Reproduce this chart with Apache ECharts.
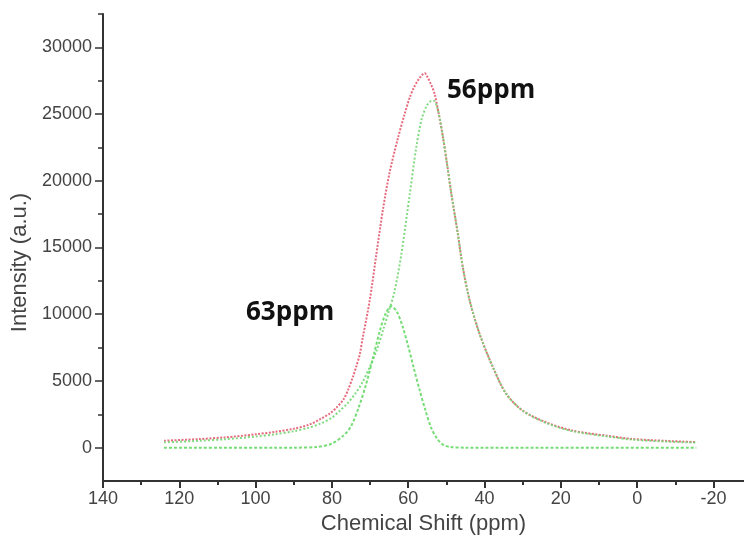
<!DOCTYPE html>
<html>
<head>
<meta charset="utf-8">
<script src="https://cdn.jsdelivr.net/npm/echarts@6/dist/echarts.min.js"></script>
<style>html,body{margin:0;padding:0;background:#fff;}#c{width:744px;height:544px;}</style>
</head>
<body>
<div id="c"></div>
<script>
// ---- data ----
const xTickLabels = [140, 120, 100, 80, 60, 40, 20, 0, -20];
const xMinorTicks = [130, 110, 90, 70, 50, 30, 10, -10];
const yTickLabels = [0, 5000, 10000, 15000, 20000, 25000, 30000];
const yMinorTicks = [2500, 7500, 12500, 17500, 22500, 27500, 32500];

// total (red) envelope
const totalPpm = [124,115,108,100,95,90,86,83,80.6,78.8,77,75.8,74.5,73.6,72.7,71.9,70.1,68.4,66.6,64.9,62.7,61,59.6,58.5,57.3,56.3,55.7,55,54,53.1,52,50.9,49.8,48.7,47,45.7,43.9,41.3,37.8,34.3,30,23.9,16.9,8.1,1.2,-8,-15.5];
const totalInt = [520,640,770,1000,1180,1420,1720,2150,2550,3000,3600,4300,5300,6100,7000,8275,11025,14400,17900,20600,23200,24950,26250,27000,27600,27950,28070,27800,27200,26530,25000,23270,21200,19025,16025,13525,11025,8525,6025,4025,2775,1900,1275,900,650,500,420];

// 56 ppm component (green)
const comp56Ppm = [124,115,108,100,95,90,86,83,80,78,76,74,72,70,68.4,66.5,65,63.6,61.8,59.6,57.9,56.5,55.2,54.2,53.3,52.4,51.5,50.9,49.8,48.7,47,45.7,43.9,41.3,37.8,34.3,30,23.9,16.9,8.1,1.2,-8,-15.5];
const comp56Int = [400,510,630,830,1000,1230,1500,1800,2250,2750,3300,4000,4900,6100,7200,8900,10300,11700,14500,19000,22500,24600,25600,25950,26000,25500,24300,23270,21200,19025,16025,13525,11025,8525,6025,4025,2775,1850,1230,850,600,450,380];

// 63 ppm component (green)
const comp63Ppm = [124,90,84,80,77,75,73,71,69,67.5,66,64.5,63,61.5,60,58.5,57,55.5,54,52.5,51,49,45,-15.5];
const comp63Int = [0,0,50,300,900,1600,3000,4800,7000,8700,10000,10600,10200,9100,7600,5900,4300,2800,1500,700,250,50,0,0];

const peakLabels = ['56ppm', '63ppm'];
const xTitle = 'Chemical Shift (ppm)';
const yTitle = 'Intensity (a.u.)';

const pairs = (xs, ys) => xs.map((x, i) => [x, ys[i]]);

const chart = echarts.init(document.getElementById('c'), null, {renderer: 'canvas'});
const axisColor = '#333';
const labelColor = '#444';
const font = '"Liberation Sans", Arial, sans-serif';

chart.setOption({
  animation: false,
  backgroundColor: '#fff',
  grid: {left: 103, right: 0, top: 14, bottom: 63, containLabel: false},
  xAxis: [{
    type: 'value', min: -28, max: 140, inverse: true,
    position: 'bottom',
    name: xTitle, nameLocation: 'middle', nameGap: 32,
    nameTextStyle: {fontFamily: font, fontSize: 22, color: labelColor},
    axisLine: {show: true, onZero: false, lineStyle: {color: axisColor, width: 2}},
    axisTick: {show: true, inside: false, length: 7, customValues: xTickLabels, lineStyle: {color: axisColor, width: 2}},
    axisLabel: {show: true, customValues: xTickLabels, margin: 9, fontFamily: font, fontSize: 18, color: labelColor},
    splitLine: {show: false}
  }, {
    type: 'value', min: -28, max: 140, inverse: true,
    position: 'bottom', offset: 0,
    axisLine: {show: false, onZero: false},
    axisTick: {show: true, inside: false, length: 4, customValues: xMinorTicks, lineStyle: {color: axisColor, width: 2}},
    axisLabel: {show: false},
    splitLine: {show: false}
  }],
  yAxis: [{
    type: 'value', min: -2500, max: 32500,
    position: 'left',
    name: yTitle, nameLocation: 'middle', nameGap: 61, nameRotate: 90,
    nameTextStyle: {fontFamily: font, fontSize: 22, color: labelColor, padding: [0, 30, 0, 0]},
    axisLine: {show: true, onZero: false, lineStyle: {color: axisColor, width: 2}},
    axisTick: {show: true, inside: false, length: 8, customValues: yTickLabels, lineStyle: {color: axisColor, width: 1.5}},
    axisLabel: {show: true, customValues: yTickLabels, margin: 11, fontFamily: font, fontSize: 18, color: labelColor,
      formatter: v => String(v)},
    splitLine: {show: false}
  }, {
    type: 'value', min: -2500, max: 32500,
    position: 'left', offset: 0,
    axisLine: {show: false, onZero: false},
    axisTick: {show: true, inside: false, length: 5, customValues: yMinorTicks, lineStyle: {color: axisColor, width: 1.5}},
    axisLabel: {show: false},
    splitLine: {show: false}
  }],
  graphic: [
    {type: 'text', x: 447, y: 91, style: {text: peakLabels[0], font: 'bold 26px "Open Sans"', fill: '#111', verticalAlign: 'middle', align: 'left'}},
    {type: 'text', x: 246, y: 313, style: {text: peakLabels[1], font: 'bold 26px "Open Sans"', fill: '#111', verticalAlign: 'middle', align: 'left'}}
  ],
  series: [
    {
      type: 'line', name: 'total', data: pairs(totalPpm, totalInt),
      showSymbol: false, smooth: 0.3, z: 2,
      lineStyle: {color: '#e35b70', width: 2, type: [2, 1.5], opacity: 0.9}
    },
    {
      type: 'line', name: '56ppm', data: pairs(comp56Ppm, comp56Int),
      showSymbol: false, smooth: 0.3, z: 3,
      lineStyle: {color: '#72d672', width: 2, type: [2, 2], opacity: 0.9}
    },
    {
      type: 'line', name: '63ppm', data: pairs(comp63Ppm, comp63Int),
      showSymbol: false, smooth: 0.3, z: 3,
      lineStyle: {color: '#66d966', width: 2, type: [3, 2], opacity: 0.9}
    }
  ]
});
</script>
</body>
</html>
